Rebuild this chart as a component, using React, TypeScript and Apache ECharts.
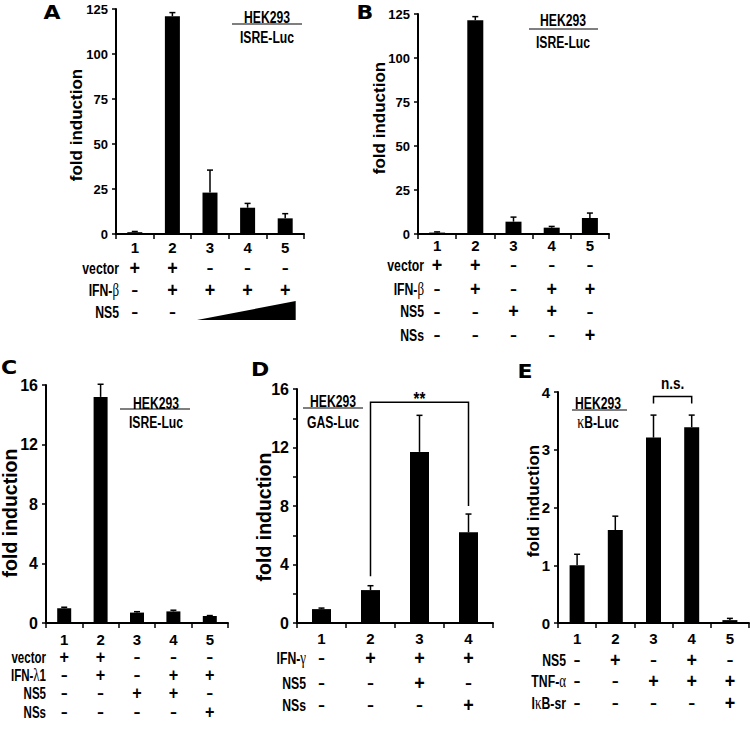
import React, { useEffect, useRef } from "react";
import * as echarts from "echarts";

const SANS = "'Liberation Sans', Arial, sans-serif";
const SERIF = "'Liberation Serif', serif";
const HEAVY = "'DejaVu Sans', sans-serif";
const NARROW_SCALE = 0.72;

// ---------------- Panel A ----------------
const A_CATEGORIES = ["1", "2", "3", "4", "5"];
const A_MEANS = [1, 121, 23, 14.6, 8.7];
const A_ERR_TOPS = [1.4, 123, 35.5, 17, 11.3];
const A_Y_RANGE = [0, 125, 25, 25]; // min, max, tick step, label step
const A_ROW_NAMES = ["vector", "IFN-β", "NS5"];
const A_ROW_SIGNS = [
  ["+", "+", "–", "–", "–"],
  ["–", "+", "+", "+", "+"],
  ["–", "–", "", "", ""],
];
const A_REPORTER = ["HEK293", "ISRE-Luc"];
const A_WEDGE = [2, 4]; // increasing NS5 over categories 3..5

// ---------------- Panel B ----------------
const B_CATEGORIES = ["1", "2", "3", "4", "5"];
const B_MEANS = [0.8, 121.5, 7, 3.6, 9.1];
const B_ERR_TOPS = [1.2, 123.5, 9.6, 4.3, 11.9];
const B_Y_RANGE = [0, 125, 25, 25];
const B_ROW_NAMES = ["vector", "IFN-β", "NS5", "NSs"];
const B_ROW_SIGNS = [
  ["+", "+", "–", "–", "–"],
  ["–", "+", "–", "+", "+"],
  ["–", "–", "+", "+", "–"],
  ["–", "–", "–", "–", "+"],
];
const B_REPORTER = ["HEK293", "ISRE-Luc"];

// ---------------- Panel C ----------------
const C_CATEGORIES = ["1", "2", "3", "4", "5"];
const C_MEANS = [1.0, 15.2, 0.7, 0.78, 0.47];
const C_ERR_TOPS = [1.06, 16.05, 0.76, 0.86, 0.5];
const C_Y_RANGE = [0, 16, 4, 4];
const C_ROW_NAMES = ["vector", "IFN-λ1", "NS5", "NSs"];
const C_ROW_SIGNS = [
  ["+", "+", "–", "–", "–"],
  ["–", "+", "–", "+", "+"],
  ["–", "–", "+", "+", "–"],
  ["–", "–", "–", "–", "+"],
];
const C_REPORTER = ["HEK293", "ISRE-Luc"];

// ---------------- Panel D ----------------
const D_CATEGORIES = ["1", "2", "3", "4"];
const D_MEANS = [0.95, 2.25, 11.7, 6.2];
const D_ERR_TOPS = [1.02, 2.55, 14.2, 7.45];
const D_Y_RANGE = [0, 16, 2, 4];
const D_ROW_NAMES = ["IFN-γ", "NS5", "NSs"];
const D_ROW_SIGNS = [
  ["–", "+", "+", "+"],
  ["–", "–", "+", "–"],
  ["–", "–", "–", "+"],
];
const D_REPORTER = ["HEK293", "GAS-Luc"];
// from category, to category, left leg bottom, bracket top, right leg bottom
const D_BRACKET = [1, 3, 3.2, 15.1, 8.0];
const D_BRACKET_LABEL = "**";

// ---------------- Panel E ----------------
const E_CATEGORIES = ["1", "2", "3", "4", "5"];
const E_MEANS = [1.0, 1.61, 3.21, 3.39, 0.05];
const E_ERR_TOPS = [1.19, 1.85, 3.6, 3.6, 0.08];
const E_Y_RANGE = [0, 4, 1, 1];
const E_ROW_NAMES = ["NS5", "TNF-α", "IκB-sr"];
const E_ROW_SIGNS = [
  ["–", "+", "–", "+", "–"],
  ["–", "–", "+", "+", "+"],
  ["–", "–", "–", "–", "+"],
];
const E_REPORTER = ["HEK293", "κB-Luc"];
const E_BRACKET = [2, 3, 3.8, 3.92, 3.8];
const E_BRACKET_LABEL = "n.s.";

const Y_TITLE = "fold induction";

type Panel = {
  letter: string;
  cats: string[];
  means: number[];
  errTops: number[];
  yRange: number[];
  rowNames: string[];
  rowSigns: string[][];
  reporter: string[];
  bracket?: number[];
  bracketLabel?: string;
  wedge?: number[];
  L: any;
};

const PANELS: Panel[] = [
  {
    letter: "A", cats: A_CATEGORIES, means: A_MEANS, errTops: A_ERR_TOPS, yRange: A_Y_RANGE,
    rowNames: A_ROW_NAMES, rowSigns: A_ROW_SIGNS, reporter: A_REPORTER, wedge: A_WEDGE,
    L: {
      left: 116, top: 9, width: 188, height: 225, barWidth: 15, yFont: 13, xFont: 15, xMargin: 6,
      rowOffsets: [34, 56, 78], rowX: 119, rowFont: 17, plusFont: 20, titleX: 76, titleY: 125, titleFont: 17,
      letterX: 52, letterY: 12, repX: 267, repY1: 17, lineY: 24, repY2: 37, lineX1: 232, lineX2: 302,
    },
  },
  {
    letter: "B", cats: B_CATEGORIES, means: B_MEANS, errTops: B_ERR_TOPS, yRange: B_Y_RANGE,
    rowNames: B_ROW_NAMES, rowSigns: B_ROW_SIGNS, reporter: B_REPORTER,
    L: {
      left: 418, top: 14, width: 191, height: 220, barWidth: 16, yFont: 13, xFont: 15, xMargin: 4,
      rowOffsets: [31, 55, 77.5, 101], rowX: 424, rowFont: 17, plusFont: 20, titleX: 379, titleY: 118, titleFont: 17,
      letterX: 365, letterY: 12, repX: 563, repY1: 20, lineY: 29, repY2: 42, lineX1: 529, lineX2: 598,
    },
  },
  {
    letter: "C", cats: C_CATEGORIES, means: C_MEANS, errTops: C_ERR_TOPS, yRange: C_Y_RANGE,
    rowNames: C_ROW_NAMES, rowSigns: C_ROW_SIGNS, reporter: C_REPORTER,
    L: {
      left: 46, top: 385, width: 182, height: 238, barWidth: 14, yFont: 16, xFont: 15, xMargin: 9,
      rowOffsets: [34, 52, 70, 89], rowX: 46, rowFont: 16, plusFont: 18, titleX: 10, titleY: 513, titleFont: 19.5,
      letterX: 9, letterY: 367, repX: 156, repY1: 403, lineY: 409, repY2: 422, lineX1: 120, lineX2: 190,
    },
  },
  {
    letter: "D", cats: D_CATEGORIES, means: D_MEANS, errTops: D_ERR_TOPS, yRange: D_Y_RANGE,
    rowNames: D_ROW_NAMES, rowSigns: D_ROW_SIGNS, reporter: D_REPORTER,
    bracket: D_BRACKET, bracketLabel: D_BRACKET_LABEL,
    L: {
      left: 297, top: 389, width: 196, height: 234, barWidth: 19, yFont: 16, xFont: 15, xMargin: 8,
      rowOffsets: [35, 60, 82], rowX: 306, rowFont: 17, plusFont: 20, titleX: 263.5, titleY: 517, titleFont: 19.5,
      letterX: 260, letterY: 369, repX: 333, repY1: 401, lineY: 408, repY2: 422, lineX1: 303, lineX2: 363,
      bracketTextGap: 4, bracketFont: 19,
    },
  },
  {
    letter: "E", cats: E_CATEGORIES, means: E_MEANS, errTops: E_ERR_TOPS, yRange: E_Y_RANGE,
    rowNames: E_ROW_NAMES, rowSigns: E_ROW_SIGNS, reporter: E_REPORTER,
    bracket: E_BRACKET, bracketLabel: E_BRACKET_LABEL,
    L: {
      left: 558, top: 392, width: 191, height: 231, barWidth: 15, yFont: 15, xFont: 15, xMargin: 8,
      rowOffsets: [37, 58, 80], rowX: 566, rowFont: 17, plusFont: 20, titleX: 533.5, titleY: 501, titleFont: 17,
      letterX: 525, letterY: 371, repX: 598, repY1: 403, lineY: 410, repY2: 422, lineX1: 572, lineX2: 627,
      bracketTextGap: 14, bracketFont: 17,
    },
  },
];

const greek = (s: string) => s.replace(/([\u0370-\u03ff]+)/g, "{g|$1}");

function buildOption() {
  const grid: any[] = [];
  const xAxis: any[] = [];
  const yAxis: any[] = [];
  const series: any[] = [];
  const graphic: any[] = [];

  PANELS.forEach((p, i) => {
    const L = p.L;
    const [yMin, yMax, yStep, labelStep] = p.yRange;
    grid.push({
      left: L.left, top: L.top, width: L.width, height: L.height,
      containLabel: false, outerBoundsMode: "none",
    });
    xAxis.push({
      type: "category", gridIndex: i, data: p.cats, boundaryGap: true,
      axisLine: { show: true, lineStyle: { color: "#000", width: 2 } },
      axisTick: { show: true, length: 5, lineStyle: { color: "#000", width: 1.5 } },
      axisLabel: {
        show: true, interval: 0, color: "#000", fontFamily: SANS, fontWeight: "bold",
        fontSize: L.xFont, margin: L.xMargin,
      },
      splitLine: { show: false },
    });
    yAxis.push({
      type: "value", gridIndex: i, min: yMin, max: yMax, interval: yStep,
      axisLine: { show: true, lineStyle: { color: "#000", width: 2 } },
      axisTick: { show: true, length: 4, lineStyle: { color: "#000", width: 1.5 } },
      axisLabel: {
        show: true, color: "#000", fontFamily: SANS, fontWeight: "bold", fontSize: L.yFont, margin: 8,
        formatter: (v: number) => (Math.abs(v % labelStep) < 1e-9 ? String(v) : ""),
      },
      splitLine: { show: false },
    });

    series.push({
      type: "bar", xAxisIndex: i, yAxisIndex: i, data: p.means, barWidth: L.barWidth,
      itemStyle: { color: "#000" }, silent: true,
    });

    // error bars (upper only)
    series.push({
      type: "custom", xAxisIndex: i, yAxisIndex: i, silent: true, z: 3,
      data: p.means.map((m, k) => [k, m, p.errTops[k]]),
      renderItem: (_params: any, api: any) => {
        const k = api.value(0);
        const a = api.coord([k, api.value(1)]);
        const b = api.coord([k, api.value(2)]);
        return {
          type: "group",
          children: [
            { type: "line", shape: { x1: a[0], y1: a[1], x2: b[0], y2: b[1] }, style: { stroke: "#000", lineWidth: 1.5 } },
            { type: "line", shape: { x1: b[0] - 3, y1: b[1], x2: b[0] + 3, y2: b[1] }, style: { stroke: "#000", lineWidth: 1.5 } },
          ],
        };
      },
    });

    // condition signs below axis
    const signData: number[][] = [];
    p.rowSigns.forEach((row, r) => row.forEach((s, k) => { if (s) signData.push([k, r]); }));
    series.push({
      type: "custom", xAxisIndex: i, yAxisIndex: i, silent: true, clip: false,
      data: signData,
      renderItem: (_params: any, api: any) => {
        const k = api.value(0);
        const r = api.value(1);
        const base = api.coord([k, 0]);
        const s = p.rowSigns[r][k];
        const plus = s === "+";
        return {
          type: "text",
          x: base[0], y: base[1] + L.rowOffsets[r],
          scaleX: plus ? 0.9 : 0.6,
          style: {
            text: s, x: 0, y: 0,
            align: "center", verticalAlign: "middle", textAlign: "center", textVerticalAlign: "middle",
            fontFamily: SANS, fontWeight: "bold", fontSize: plus ? L.plusFont : 18, fill: "#000",
          },
        };
      },
    });

    if (p.wedge) {
      series.push({
        type: "custom", xAxisIndex: i, yAxisIndex: i, silent: true, clip: false,
        data: [p.wedge],
        renderItem: (_params: any, api: any) => {
          const a = api.coord([api.value(0), 0]);
          const b = api.coord([api.value(1), 0]);
          const yb = a[1] + 86;
          const yt = a[1] + 67;
          return {
            type: "polygon",
            shape: { points: [[a[0] - 13, yb], [b[0] + 10.5, yb], [b[0] + 10.5, yt]] },
            style: { fill: "#000" },
          };
        },
      });
    }

    if (p.bracket) {
      const label = p.bracketLabel || "";
      series.push({
        type: "custom", xAxisIndex: i, yAxisIndex: i, silent: true, clip: false,
        data: [p.bracket],
        renderItem: (_params: any, api: any) => {
          const f = api.value(0), t = api.value(1);
          const p1 = api.coord([f, api.value(2)]);
          const p2 = api.coord([f, api.value(3)]);
          const p3 = api.coord([t, api.value(3)]);
          const p4 = api.coord([t, api.value(4)]);
          return {
            type: "group",
            children: [
              { type: "polyline", shape: { points: [p1, p2, p3, p4] }, style: { stroke: "#000", lineWidth: 1.5, fill: "none" } },
              {
                type: "text",
                x: (p2[0] + p3[0]) / 2, y: p2[1] - L.bracketTextGap, scaleX: 0.8,
                style: {
                  text: label, x: 0, y: 0,
                  align: "center", verticalAlign: "middle", textAlign: "center", textVerticalAlign: "middle",
                  fontFamily: SANS, fontWeight: "bold", fontSize: L.bracketFont, fill: "#000",
                },
              },
            ],
          };
        },
      });
    }

    // panel letter
    graphic.push({
      type: "text", x: L.letterX, y: L.letterY, scaleX: 1.1,
      style: {
        text: p.letter, align: "center", verticalAlign: "middle", textAlign: "center", textVerticalAlign: "middle",
        fontFamily: HEAVY, fontWeight: "bold", fontSize: 20, fill: "#000",
      },
    });
    // y title
    graphic.push({
      type: "text", x: L.titleX, y: L.titleY, rotation: Math.PI / 2,
      style: {
        text: Y_TITLE, align: "center", verticalAlign: "middle", textAlign: "center", textVerticalAlign: "middle",
        fontFamily: SANS, fontWeight: "bold", fontSize: L.titleFont, fill: "#000",
      },
    });
    // reporter annotation
    const richG = { g: { fontFamily: SERIF, fontWeight: "normal", fontSize: 18, fill: "#000" } };
    [[p.reporter[0], L.repY1], [p.reporter[1], L.repY2]].forEach(([txt, y]) => {
      graphic.push({
        type: "text", x: L.repX, y: y as number, scaleX: 0.76,
        style: {
          text: greek(txt as string), rich: richG, align: "center", verticalAlign: "middle", textAlign: "center", textVerticalAlign: "middle",
          fontFamily: SANS, fontWeight: "bold", fontSize: 16, fill: "#000",
        },
      });
    });
    graphic.push({
      type: "line", shape: { x1: L.lineX1, y1: L.lineY, x2: L.lineX2, y2: L.lineY },
      style: { stroke: "#000", lineWidth: 1.2 },
    });
    // row names
    const zeroY = L.top + L.height;
    p.rowNames.forEach((name, r) => {
      graphic.push({
        type: "text", x: L.rowX, y: zeroY + L.rowOffsets[r], scaleX: NARROW_SCALE,
        style: {
          text: greek(name), rich: richG, align: "right", verticalAlign: "middle", textAlign: "right", textVerticalAlign: "middle",
          fontFamily: SANS, fontWeight: "bold", fontSize: L.rowFont, fill: "#000",
        },
      });
    });
  });

  return {
    animation: false,
    backgroundColor: "#fff",
    textStyle: { fontFamily: SANS, color: "#000" },
    grid, xAxis, yAxis, series, graphic,
  };
}

export default function App() {
  const ref = useRef<HTMLDivElement>(null);
  useEffect(() => {
    if (!ref.current) return;
    const chart = echarts.init(ref.current, null, { renderer: "svg" });
    chart.setOption(buildOption() as any);
    return () => chart.dispose();
  }, []);
  return (
    <div
      ref={ref}
      style={{ position: "fixed", left: 0, top: 0, width: 750, height: 735, background: "#fff" }}
    />
  );
}
